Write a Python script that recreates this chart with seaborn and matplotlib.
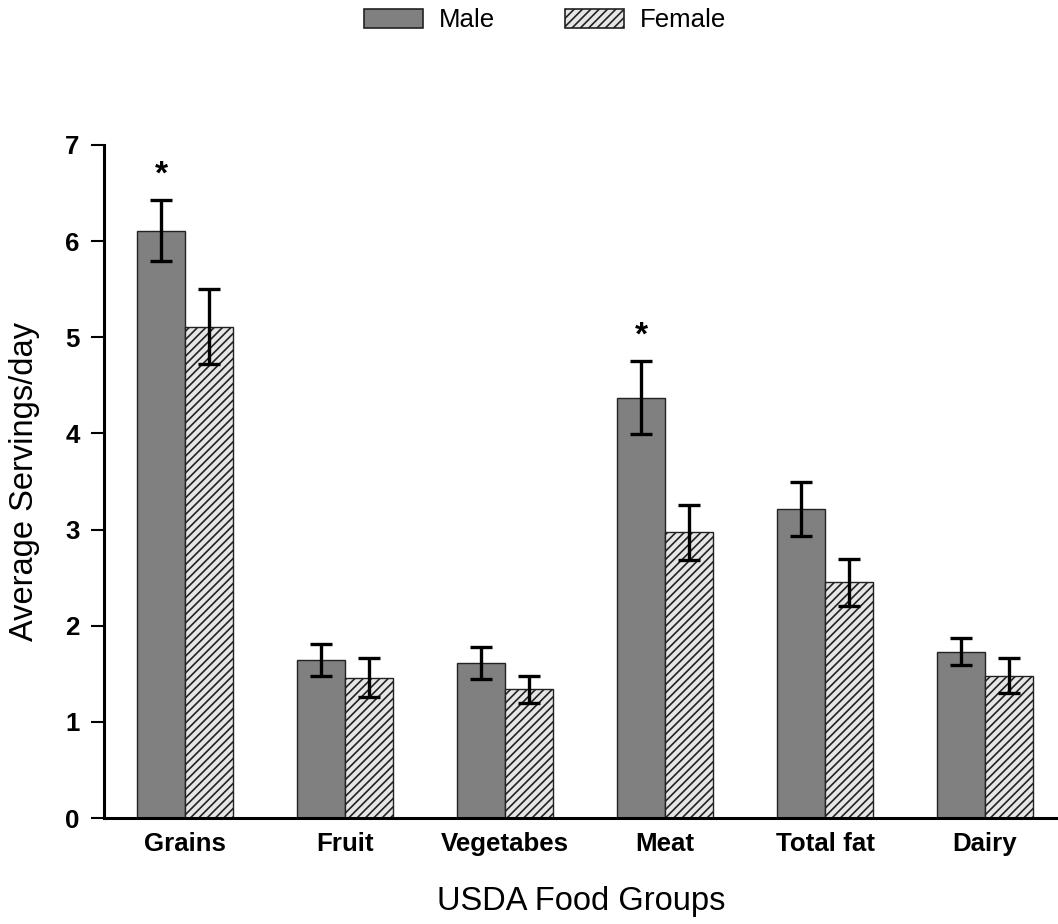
# %% Import packages

import pandas as pd
import seaborn as sns
import matplotlib
matplotlib.use('Agg')
import matplotlib.pyplot as plt
from matplotlib.patches import Patch

# %% Data

groups = ['Grains', 'Fruit', 'Vegetabes', 'Meat', 'Total fat', 'Dairy']
sexes = ['Male', 'Female']
male_mean = [6.11, 1.64, 1.61, 4.37, 3.21, 1.73]
male_err = [0.32, 0.165, 0.165, 0.38, 0.28, 0.14]
female_mean = [5.11, 1.46, 1.34, 2.97, 2.45, 1.48]
female_err = [0.39, 0.20, 0.14, 0.29, 0.24, 0.18]
significant = [True, False, False, True, False, False]

# %% Set figure aesthetics

sns.set_style('ticks')
plt.rcParams['font.family'] = ['Liberation Sans', 'DejaVu Sans']
plt.rcParams['hatch.linewidth'] = 1.2
for key in ['text.color', 'axes.labelcolor', 'xtick.color', 'ytick.color', 'axes.edgecolor']:
    plt.rcParams[key] = 'black'

MALE_COLOR = '#808080'
FEMALE_COLOR = '#e6e6e6'
HATCH = '////'

# %% Build long table

df = pd.DataFrame({
    'group': groups * 2,
    'sex': ['Male'] * len(groups) + ['Female'] * len(groups),
    'value': male_mean + female_mean,
})
errs = {'Male': male_err, 'Female': female_err}

# %% Generate bar plot

fig = plt.figure(figsize=(10.58, 9.24), dpi=100)
ax = fig.add_axes([0.0983, 0.1147, 0.9017, 0.7284])

sns.barplot(data=df, x='group', y='value', hue='sex', hue_order=sexes,
            order=groups, palette=[MALE_COLOR, FEMALE_COLOR], width=0.6,
            edgecolor='#222222', linewidth=1.0, errorbar=None, legend=False, ax=ax)

for cont, sex in zip(ax.containers, sexes):
    xs = []
    for bar in cont:
        xs.append(bar.get_x() + bar.get_width() / 2)
        if sex == 'Female':
            bar.set_hatch(HATCH)
    ax.errorbar(xs, [b.get_height() for b in cont], yerr=errs[sex], fmt='none',
                ecolor='black', elinewidth=2.4, capsize=8, capthick=2.4, zorder=5)
    if sex == 'Male':
        for x, m, e, sig in zip(xs, male_mean, male_err, significant):
            if sig:
                ax.text(x, m + e + 0.1, '*', ha='center', va='bottom',
                        fontsize=24, fontweight='bold')

ax.set_xlim(-0.506, 5.456)
ax.set_ylim(0, 7)
ax.set_yticks(range(0, 8))
sns.despine(ax=ax)
for side in ['left', 'bottom']:
    ax.spines[side].set_linewidth(2.2)
ax.tick_params(axis='y', length=9.5, width=1.5, labelsize=18.6, pad=8)
ax.tick_params(axis='x', length=0, labelsize=18.6, pad=10)
for lab in ax.get_xticklabels() + ax.get_yticklabels():
    lab.set_fontweight('bold')

ax.set_xlabel('USDA Food Groups', fontsize=23.5, labelpad=22)
ax.set_ylabel('Average Servings/day', fontsize=23.5, labelpad=18)

handles = [Patch(facecolor=MALE_COLOR, edgecolor='#222222', linewidth=1.2, label='Male'),
           Patch(facecolor=FEMALE_COLOR, edgecolor='#222222', linewidth=1.2, hatch=HATCH, label='Female')]
fig.legend(handles=handles, loc='upper center', bbox_to_anchor=(0.515, 1.016), ncol=2,
           frameon=False, fontsize=18.6, handlelength=2.3, handleheight=0.8,
           handletextpad=0.6, columnspacing=2.7)

plt.savefig('out.png', dpi=100)
